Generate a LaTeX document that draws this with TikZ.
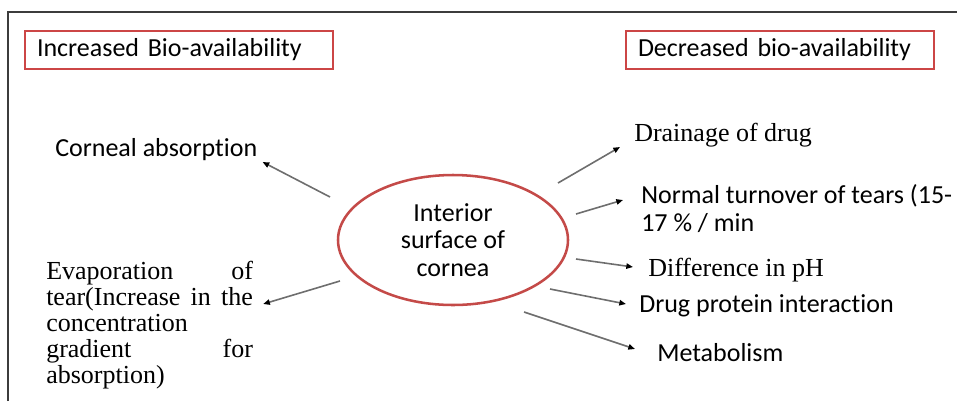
\documentclass[tikz,border=0pt]{standalone}
\usepackage{fontspec}
\setmainfont{Liberation Serif}
\newfontfamily\calibri{Carlito}[Ligatures={NoCommon}]
\usetikzlibrary{arrows.meta,shapes.geometric}

\definecolor{boxred}{RGB}{204,70,70}
\definecolor{ellred}{RGB}{196,74,72}
\definecolor{linegray}{RGB}{110,110,110}
\definecolor{framegray}{RGB}{60,60,60}

\newcommand\evline[1]{\makebox[155pt][s]{#1}}

\tikzset{
  headbox/.style={draw=boxred, line width=1.5pt, text width=213pt, align=left,
    inner xsep=9pt, minimum height=28pt, font=\calibri\fontsize{19.5}{23}\selectfont},
  sanslbl/.style={anchor=west, inner sep=0pt, align=left, font=\calibri\fontsize{19.5}{21}\selectfont},
  seriflbl/.style={anchor=west, inner sep=0pt, align=left, font=\fontsize{19.5}{19.6}\selectfont},
  conn/.style={draw=linegray, line width=1.2pt, -{Triangle[length=5pt,width=4pt,color=black]}}
}

\begin{document}
\begin{tikzpicture}[x=0.75pt, y=-0.75pt]
  \useasboundingbox (0,0) rectangle (957,401);
  \draw[framegray, line width=1.5pt] (8,401) -- (8,12) -- (957,12);

  % headings
  \node[headbox] (incr) at (179,50) {Increased Bio-availability};
  \node[headbox] (decr) at (780,50) {Decreased bio-availability};

  % centre
  \node[ellipse, draw=ellred, line width=1.9pt, minimum width=172.5pt, minimum height=97.5pt,
    align=center, font=\calibri\fontsize{19.5}{20.5}\selectfont] (cornea) at (453,240)
    {Interior\\surface of\\cornea};

  % increased side
  \node[sanslbl] (absorb) at (55,150) {Corneal absorption};
  \node[seriflbl] (evap) at (46,325) {\evline{Evaporation of}\\\evline{tear(Increase in the}\\concentration\\\evline{gradient for}\\absorption)};

  % decreased side
  \node[seriflbl] (drain) at (634,135) {Drainage of drug};
  \node[sanslbl] (turn) at (641,209) {Normal turnover of tears (15-\\17 \% / min};
  \node[seriflbl] (ph) at (648,270) {Difference in pH};
  \node[sanslbl] (prot) at (639,306) {Drug protein interaction};
  \node[sanslbl] (metab) at (657,353) {Metabolism};

  \coordinate (s1) at (330,197);
  \coordinate (s2) at (340,281);
  \coordinate (s3) at (558,183);
  \coordinate (s4) at (576,214);
  \coordinate (s5) at (576,259);
  \coordinate (s6) at (550,289);
  \coordinate (s7) at (524,312);

  \draw[conn] (s1) -- ([shift={(5,12)}]absorb.east);
  \draw[conn] (s2) -- ([shift={(10,-21)}]evap.east);
  \draw[conn] (s3) -- ([shift={(-14,12)}]drain.west);
  \draw[conn] (s4) -- ([shift={(-18,-9)}]turn.west);
  \draw[conn] (s5) -- ([shift={(-15,-3)}]ph.west);
  \draw[conn] (s6) -- ([shift={(-13,-2)}]prot.west);
  \draw[conn] (s7) -- ([shift={(-22,-4)}]metab.west);
\end{tikzpicture}
\end{document}
